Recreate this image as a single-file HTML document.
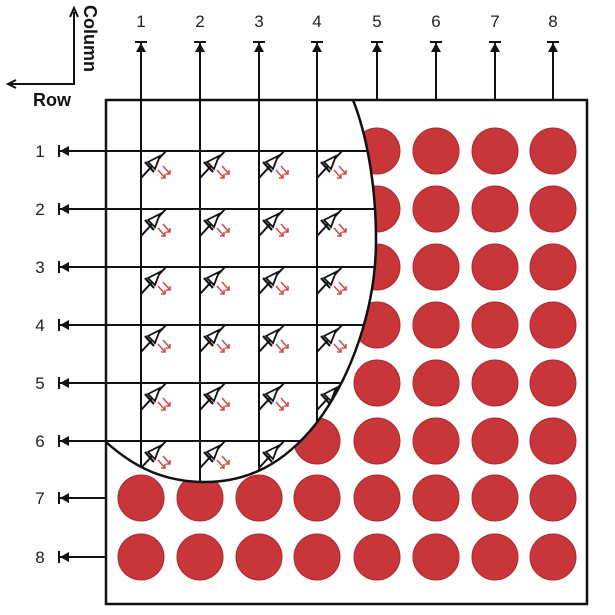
<!DOCTYPE html>
<html><head><meta charset="utf-8"><style>
html,body{margin:0;padding:0;background:#fff;width:615px;height:615px;overflow:hidden}
svg{display:block;font-family:"Liberation Sans",sans-serif}
</style></head><body>
<svg id="c" width="615" height="615" viewBox="0 0 615 615">
<defs><clipPath id="cp"><path d="M106,100 L353,100 C365,130 376,180 376,240 C376,310 350,380 315,425 C285,462 250,482 205,482 C165,482 135,468 106,442 Z"/></clipPath></defs>
</svg>
<script>
const colLabels=["1","2","3","4","5","6","7","8"];
const rowLabels=["1","2","3","4","5","6","7","8"];
const colX=[141,200,259,317,377,436,495,553];
const rowY=[151,209,267,325,383,441,498,557];
const NS="http://www.w3.org/2000/svg";
const svg=document.getElementById('c');
function mk(t,a,p){const e=document.createElementNS(NS,t);for(const k in a)e.setAttribute(k,a[k]);(p||svg).appendChild(e);return e;}
const CURVE="M106,442 C135,468 165,482 205,482 C250,482 285,462 315,425 C350,380 376,310 376,240 C376,180 365,130 353,100";
// circles
rowY.forEach((y,r)=>colX.forEach((x,c)=>{
 if((c<4&&r<5)||(r===5&&c<3)) return;
 const e=mk('circle',{cx:x,cy:y,r:23,fill:'#c8363a',stroke:'#a82a2e','stroke-width':1});
 
 
}));
// cutaway
const cut=mk('path',{d:CURVE+" L106,100 Z",fill:'#fff',stroke:'none'});


const g=mk('g',{'clip-path':'url(#cp)'});


for(let r=0;r<6;r++) mk('line',{x1:100,y1:rowY[r],x2:400,y2:rowY[r],stroke:'#111','stroke-width':2},g);
for(let c=0;c<4;c++) mk('line',{x1:colX[c],y1:95,x2:colX[c],y2:500,stroke:'#111','stroke-width':2},g);
for(let r=0;r<6;r++)for(let c=0;c<4;c++){
 const x=colX[c],y=rowY[r];
 const d=mk('g',{},g);
 
 
 mk('line',{x1:x,y1:y+27,x2:x+25,y2:y,stroke:'#111','stroke-width':2},d);
 mk('path',{d:`M${x+7},${y+11} L${x+19},${y+5} L${x+14},${y+18} Z`,fill:'#fff',stroke:'#111','stroke-width':1.8},d);
 mk('line',{x1:x+4,y1:y+11,x2:x+13,y2:y+21,stroke:'#111','stroke-width':2.2},d);
 mk('path',{d:`M${x+17},${y+19} l7,8 m-4,0 h4 v-4 M${x+22},${y+15} l7,8 m-4,0 h4 v-4`,fill:'none',stroke:'#d05050','stroke-width':1.6},d);
}
mk('path',{d:CURVE,fill:'none',stroke:'#111','stroke-width':2.5});
const fr=mk('rect',{x:106,y:100,width:481,height:504,fill:'none',stroke:'#111','stroke-width':2.5});


// columns
colX.forEach((x,c)=>{
 mk('line',{x1:x,y1:43,x2:x,y2:c<4?110:100,stroke:'#111','stroke-width':2});
 mk('line',{x1:x-6,y1:42,x2:x+6,y2:42,stroke:'#111','stroke-width':2});
 mk('path',{d:`M${x-5},${52} L${x+5},${52} L${x},${43} Z`,fill:'#111'});
 const t=mk('text',{x:x,y:27,'text-anchor':'middle','font-size':17,fill:'#222'});
 t.textContent=colLabels[c];
 
 
});
rowY.forEach((y,r)=>{
 mk('line',{x1:60,y1:y,x2:r<6?110:106,y2:y,stroke:'#111','stroke-width':2});
 mk('line',{x1:59,y1:y-6,x2:59,y2:y+6,stroke:'#111','stroke-width':2});
 mk('path',{d:`M${69},${y-5} L${69},${y+5} L${60},${y} Z`,fill:'#111'});
 const t=mk('text',{x:40,y:y+6,'text-anchor':'middle','font-size':17,fill:'#222'});
 t.textContent=rowLabels[r];
 
 
});
// axes indicator
const ax=mk('g',{});


mk('path',{d:"M74,12 L74,84 L10,84",fill:'none',stroke:'#111','stroke-width':2},ax);
mk('path',{d:"M70,17 L74,8 L78,17",fill:'none',stroke:'#111','stroke-width':2},ax);
mk('path',{d:"M16,80 L8,84 L16,88",fill:'none',stroke:'#111','stroke-width':2},ax);
const tr=mk('text',{x:52,y:106,'text-anchor':'middle','font-size':18,'font-weight':'bold',fill:'#111'},ax);tr.textContent='Row';
const tc=mk('text',{x:0,y:0,'font-size':18,'font-weight':'bold',fill:'#111',transform:'translate(84,5) rotate(90)'},ax);tc.textContent='Column';
</script>
</body></html>
